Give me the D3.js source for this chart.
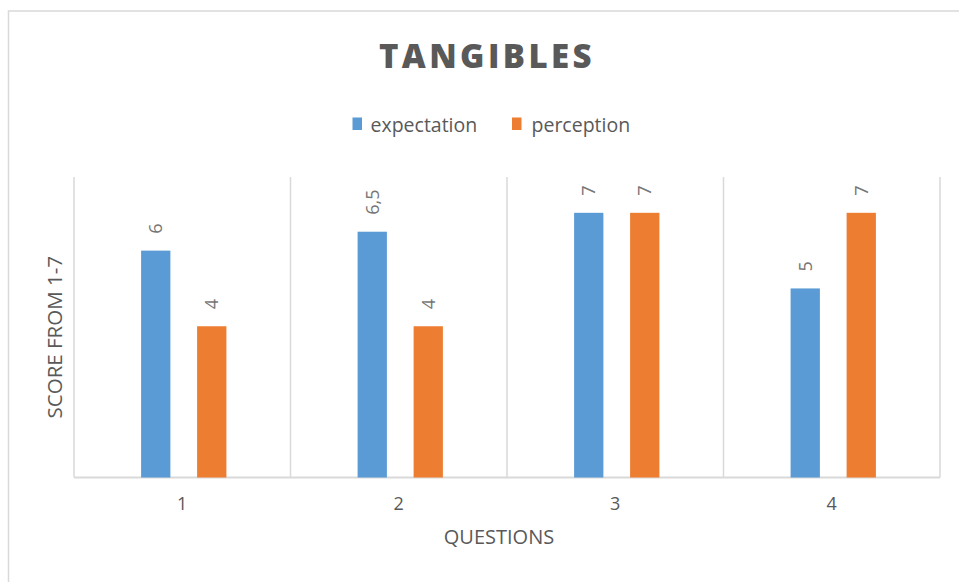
<!DOCTYPE html>
<html>
<head>
<meta charset="utf-8">
<script src="https://cdn.jsdelivr.net/npm/d3@7/dist/d3.min.js"></script>
<style>
  html, body { margin: 0; padding: 0; background: #fff; }
  svg { display: block; font-family: "Open Sans", "Noto Sans", sans-serif; }
</style>
</head>
<body>
<svg id="chart" width="959" height="582"></svg>
<script>
// Survey scores per question
const questions = ["1", "2", "3", "4"];
const seriesNames = ["expectation", "perception"];
const expectation = [6, 6.5, 7, 5];
const perception = [4, 4, 7, 7];
const seriesColors = ["#5B9BD5", "#ED7D31"];
const yTicks = [0, 8];

const svg = d3.select("#chart");
const plot = { left: 74, right: 940, top: 175, bottom: 477.5 };

// Outer chart frame (extends past the viewport on right and bottom)
svg.append("rect")
  .attr("x", 8.5).attr("y", 11)
  .attr("width", 1200).attr("height", 1200)
  .attr("fill", "#fff")
  .attr("stroke", "#d9d9d9").attr("stroke-width", 1.5);

const x0 = d3.scaleBand()
  .domain(questions)
  .range([plot.left, plot.right])
  .paddingInner(0.606)
  .paddingOuter(0.303);

const x1 = d3.scaleBand()
  .domain(seriesNames)
  .range([0, x0.bandwidth()])
  .paddingInner(0.477);

const y = d3.scaleLinear()
  .domain(d3.extent(yTicks))
  .range([plot.bottom, plot.top]);

const color = d3.scaleOrdinal().domain(seriesNames).range(seriesColors);

// Vertical separators between question categories
const step = x0.step();
const bounds = questions.map((q, i) => plot.left + i * step).concat([plot.right]);
svg.append("g").selectAll("line")
  .data(bounds)
  .join("line")
  .attr("x1", d => d).attr("x2", d => d)
  .attr("y1", plot.top + 2).attr("y2", plot.bottom)
  .attr("stroke", "#d9d9d9").attr("stroke-width", 1.5);

// Category axis
const xAxis = svg.append("g")
  .attr("transform", `translate(0,${plot.bottom})`)
  .call(d3.axisBottom(x0).tickSize(0).tickPadding(20));
xAxis.select(".domain").remove();
xAxis.append("line")
  .attr("x1", plot.left).attr("x2", plot.right)
  .attr("stroke", "#d9d9d9").attr("stroke-width", 2);
xAxis.selectAll(".tick text")
  .attr("font-family", "Open Sans, sans-serif")
  .attr("font-size", 18)
  .attr("fill", "#595959");

// Bars
const rows = questions.map((q, i) => ({
  q,
  values: [
    { key: "expectation", value: expectation[i] },
    { key: "perception", value: perception[i] }
  ]
}));

const groups = svg.append("g").selectAll("g")
  .data(rows)
  .join("g")
  .attr("transform", d => `translate(${x0(d.q) + 1.5},0)`);

groups.selectAll("rect")
  .data(d => d.values)
  .join("rect")
  .attr("x", d => x1(d.key))
  .attr("width", x1.bandwidth())
  .attr("y", d => y(d.value))
  .attr("height", d => y(0) - y(d.value))
  .attr("fill", d => color(d.key));

// Value labels, rotated to read bottom-to-top
const fmt = v => String(v).replace(".", ",");
groups.selectAll("text.val")
  .data(d => d.values)
  .join("text")
  .attr("class", "val")
  .attr("transform", d => `translate(${x1(d.key) + x1.bandwidth() / 2},${y(d.value) - 17}) rotate(-90)`)
  .attr("dy", "0.36em")
  .attr("text-anchor", "start")
  .attr("font-size", 18)
  .attr("fill", "#767676")
  .text(d => fmt(d.value));

// Title
svg.append("text")
  .attr("x", 487).attr("y", 67.5)
  .attr("text-anchor", "middle")
  .attr("font-size", 33)
  .attr("font-weight", 800)
  .attr("letter-spacing", 3.4)
  .attr("fill", "#595959")
  .text("TANGIBLES");

// Legend
const legend = svg.append("g");
const legendX = [352.5, 512];
seriesNames.forEach((name, i) => {
  const g = legend.append("g").attr("transform", `translate(${legendX[i]},0)`);
  g.append("rect")
    .attr("x", 0).attr("y", 117.5)
    .attr("width", 9.5).attr("height", 12.5)
    .attr("fill", seriesColors[i]);
  g.append("text")
    .attr("x", 18 + i * 1.5).attr("y", 131.5)
    .attr("font-size", 19.5)
    .attr("fill", "#595959")
    .text(name);
});

// Axis titles
svg.append("text")
  .attr("x", (plot.left + plot.right) / 2 - 8).attr("y", 544)
  .attr("text-anchor", "middle")
  .attr("font-size", 20)
  .attr("fill", "#595959")
  .text("QUESTIONS");

svg.append("text")
  .attr("transform", `translate(62,${(plot.top + plot.bottom) / 2 + 11}) rotate(-90)`)
  .attr("text-anchor", "middle")
  .attr("font-size", 20.5)
  .attr("fill", "#595959")
  .text("SCORE FROM 1-7");
</script>
</body>
</html>
